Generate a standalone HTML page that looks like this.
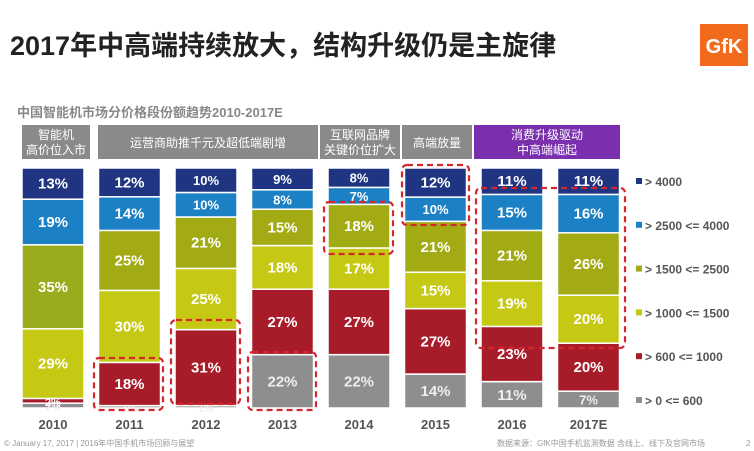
<!DOCTYPE html>
<html><head><meta charset="utf-8"><style>
body{margin:0;width:754px;height:451px;background:#fff;overflow:hidden;font-family:"Liberation Sans","Noto Sans CJK SC",sans-serif}
</style></head><body>
<svg width="754" height="451" style="position:absolute;left:0;top:0">
<text x="10" y="55" font-size="27" font-weight="bold" fill="#222" font-family="Liberation Sans,Noto Sans CJK SC,sans-serif">2017年中高端持续放大，结构升级仍是主旋律</text>
<rect x="700" y="24" width="48" height="42" fill="#f26a1b"/>
<text x="724" y="53" font-size="20" font-weight="bold" fill="#fff" text-anchor="middle">GfK</text>
<text x="17" y="117" font-size="13" font-weight="bold" fill="#888" font-family="Liberation Sans,Noto Sans CJK SC,sans-serif">中国智能机市场分价格段份额趋势2010-2017E</text>
<g id="hdr" font-family="Liberation Sans,Noto Sans CJK SC,sans-serif" font-size="12" fill="#fff" text-anchor="middle"></g>
<g id="bars"></g><g id="legend"></g><g id="boxes"></g>
<text x="4" y="446" font-size="8" fill="#999" font-family="Liberation Sans,Noto Sans CJK SC,sans-serif">© January 17, 2017 | 2016年中国手机市场回顾与展望</text>
<text x="705" y="446" font-size="8" fill="#999" text-anchor="end" font-family="Liberation Sans,Noto Sans CJK SC,sans-serif">数据来源：GfK中国手机监测数据 含线上、线下及官网市场</text>
<text x="746" y="446" font-size="8" fill="#999">2</text>
</svg>
<script>
const years=["2010","2011","2012","2013","2014","2015","2016","2017E"];
const seriesNames=["> 0 <= 600","> 600 <= 1000","> 1000 <= 1500","> 1500 <= 2500","> 2500 <= 4000","> 4000"];
const s600=[2,1,1,22,22,14,11,7];
const s1000=[2,18,31,27,27,27,23,20];
const s1500=[29,30,25,18,17,15,19,20];
const s2500=[35,25,21,15,18,21,21,26];
const s4000=[19,14,10,8,7,10,15,16];
const sTop=[13,12,10,9,8,12,11,11];
const series=[s600,s1000,s1500,s2500,s4000,sTop];
const colors=["#8e8e8e","#a81c2a","#c6c914","#a3ab14","#1b80c4","#1f3581"];
const NS="http://www.w3.org/2000/svg";
function mk(t,a,p){const e=document.createElementNS(NS,t);for(const k in a)e.setAttribute(k,a[k]);p.appendChild(e);return e;}
const x0=22,step=76.5,bw=62,yTop=168,yBot=408;
const xs=i=>x0+i*step;
const bars=document.getElementById('bars');
years.forEach((yr,i)=>{
  let tot=0;series.forEach(s=>tot+=s[i]);
  let y=yBot;
  series.forEach((s,k)=>{
    const h=s[i]/tot*(yBot-yTop);
    const r=mk('rect',{x:xs(i),y:y-h,width:bw,height:h,fill:(k==3&&i==0)?"#9aab1c":colors[k],stroke:"#fff","stroke-width":1.5},bars);
    
    
    const t=mk('text',{x:xs(i)+bw/2,y:y-h/2+5,"font-size":s[i]<5?11:(h>25?15:13),"font-weight":"bold",fill:(k==0?"#eee":"#fff"),"text-anchor":"middle"},bars);
    t.textContent=s[i]+"%";
    
    
    y-=h;
  });
  const l=mk('text',{x:xs(i)+bw/2,y:429,"font-size":13,"font-weight":"bold",fill:"#555","text-anchor":"middle"},bars);
  l.textContent=yr;
  
  
});
const lg=document.getElementById('legend');
for(let k=5;k>=0;k--){
  const yy=182+(5-k)*43.8;
  const r=mk('rect',{x:636,y:yy-4,width:6,height:6,fill:colors[k]},lg);
  
  
  const t=mk('text',{x:645,y:yy+4,"font-size":12,"font-weight":"bold",fill:"#555"},lg);
  t.textContent=seriesNames[k];
  
  
}
const hdr=document.getElementById('hdr');
[[22,68,["智能机","高价位入市"],"#8a8a8a"],[98,220,["运营商助推千元及超低端剧增"],"#8a8a8a"],[320,80,["互联网品牌","关键价位扩大"],"#8a8a8a"],[402,70,["高端放量"],"#8a8a8a"],[474,146,["消费升级驱动","中高端崛起"],"#7a2fae"]].forEach((h,j)=>{
  const r=mk('rect',{x:h[0],y:125,width:h[1],height:34,fill:h[3]},hdr);
  
  
  h[2].forEach((s,m)=>{const t=mk('text',{x:h[0]+h[1]/2,y:h[2].length==1?147:(139+m*15)},hdr);t.textContent=s;
    
    });
});
const bx=document.getElementById('boxes');
[[94,358,69,52],[171,320,69,84],[248,352,68,58],[324,202,69,52],[402,165,67,60],[476,188,149,160]].forEach((b,j)=>{
  const r=mk('rect',{x:b[0],y:b[1],width:b[2],height:b[3],fill:"none",stroke:"#d4262e","stroke-width":2.2,"stroke-dasharray":"6,4",rx:5},bx);
  
  
});
</script>
</body></html>
